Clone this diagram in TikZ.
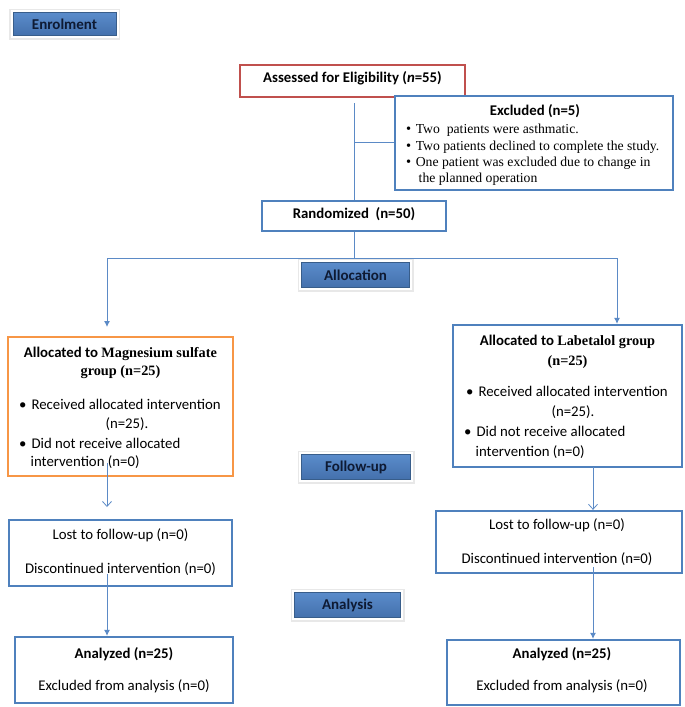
\documentclass[tikz,border=0pt]{standalone}
\usepackage{fontspec}
\setmainfont{Carlito}
\newfontfamily\tms{Liberation Serif}
\usetikzlibrary{arrows.meta,shadows}
\definecolor{obl}{HTML}{4F81BD}
\definecolor{ored}{HTML}{C0504D}
\definecolor{oorg}{HTML}{F79646}
\definecolor{labtop}{HTML}{5A8CCB}
\definecolor{labbot}{HTML}{4470AC}
\definecolor{labedge}{HTML}{385D8A}
\definecolor{labtxt}{HTML}{0E1A33}
\definecolor{ln}{HTML}{5B8AC6}
\tikzset{
  box/.style={draw=obl, line width=2.3pt, fill=white, inner sep=0pt},
  lab/.style={draw=labedge, line width=0.8pt, top color=labtop, bottom color=labbot,
    inner sep=0pt, text=labtxt, font=\fontsize{15}{17}\selectfont\bfseries,
    drop shadow={shadow xshift=0.5pt, shadow yshift=-1.8pt, opacity=0.22, fill=black!60},
    preaction={draw=black!9, line width=8pt},
    preaction={draw=white, line width=5pt}},
  tx/.style={inner sep=0pt, font=\fontsize{14.8}{17}\selectfont, anchor=mid},
  txl/.style={tx, anchor=mid west},
  bt/.style={inner sep=0pt, font=\fontsize{14.8}{17}\selectfont\bfseries, anchor=mid},
  tm/.style={inner sep=0pt, font=\tms\fontsize{13.7}{16}\selectfont, anchor=mid west},
  conn/.style={draw=ln, line width=0.9pt},
  farrow/.style={conn, -{Latex[length=6pt,width=6pt]}},
  oarrow/.style={conn, -{Straight Barb[length=5pt,width=9pt,line width=0.8pt]}}
}
\newcommand{\tbf}[1]{{\tms\fontsize{14.3}{17}\selectfont\bfseries #1}}
\newcommand{\tdot}{{\tms\fontsize{14.5}{16}\selectfont\textbullet}}
\begin{document}
\begin{tikzpicture}[x=1pt,y=-1pt]
\useasboundingbox (0,0) rectangle (685,707);

% stage labels
\node[lab, minimum width=103pt, minimum height=23pt] (enrol) at (64.5,24) {Enrolment};
\node[lab, minimum width=108pt, minimum height=25pt] (alloclab) at (355.5,275) {Allocation};
\node[lab, minimum width=109pt, minimum height=25pt] (followlab) at (356,467) {Follow-up};
\node[lab, minimum width=106pt, minimum height=25pt] (analab) at (347.5,605) {Analysis};

% boxes
\node[box, draw=ored, minimum width=225pt, minimum height=32pt] (assess) at (352.5,81) {};
\node[box, minimum width=278pt, minimum height=94pt] (excl) at (534,143) {};
\node[box, minimum width=184pt, minimum height=30pt] (rand) at (354,216) {};
\node[box, draw=oorg, minimum width=225pt, minimum height=139pt] (lalloc) at (120.5,406.5) {};
\node[box, minimum width=229pt, minimum height=142pt] (ralloc) at (567.5,396) {};
\node[box, minimum width=223pt, minimum height=66pt] (llost) at (120.5,553) {};
\node[box, minimum width=246pt, minimum height=62pt] (rlost) at (559,542) {};
\node[box, minimum width=218pt, minimum height=66pt] (lana) at (124,670) {};
\node[box, minimum width=233pt, minimum height=65pt] (rana) at (563.5,672.5) {};

% texts
\node[bt] (t-assess) at (352.5,80) {Assessed for Eligibility (\textit{n}=55)};
\node[bt] (t-excl) at (535,113) {Excluded (n=5)};
\node[tm] (t-e1) at (406,131) {\tdot\hspace{4.5pt}Two\ \ patients were asthmatic.};
\node[tm] (t-e2) at (406,148) {\tdot\hspace{4.5pt}Two patients declined to complete the study.};
\node[tm] (t-e3) at (406,164.5) {\tdot\hspace{4.5pt}One patient was excluded due to change in};
\node[tm] (t-e4) at (418.5,180) {the planned operation};
\node[bt] (t-rand) at (354,216) {Randomized\ \ (n=50)};

\node[bt] (t-la1) at (120.5,355) {Allocated to \tbf{Magnesium sulfate}};
\node[bt] (t-la2) at (120.5,373) {\tbf{group (n=25)}};
\node[txl] (t-la3) at (19,407) {\textbullet\hspace{5pt}Received allocated intervention};
\node[tx] (t-la4) at (127,426) {(n=25).};
\node[txl] (t-la5) at (19,446) {\textbullet\hspace{5pt}Did not receive allocated};
\node[txl] (t-la6) at (30.5,464) {intervention (n=0)};

\node[bt] (t-ra1) at (567.5,343) {Allocated to \tbf{Labetalol group}};
\node[bt] (t-ra2) at (567.5,363) {\tbf{(n=25)}};
\node[txl] (t-ra3) at (466,394) {\textbullet\hspace{5pt}Received allocated intervention};
\node[tx] (t-ra4) at (573,414) {(n=25).};
\node[txl] (t-ra5) at (464,434) {\textbullet\hspace{5pt}Did not receive allocated};
\node[txl] (t-ra6) at (475.5,454) {intervention (n=0)};

\node[tx] (t-ll1) at (120.5,537) {Lost to follow-up (n=0)};
\node[tx] (t-ll2) at (120.5,571) {Discontinued intervention (n=0)};
\node[tx] (t-rl1) at (557,527) {Lost to follow-up (n=0)};
\node[tx] (t-rl2) at (557,561) {Discontinued intervention (n=0)};

\node[bt] (t-lan1) at (124,656) {Analyzed (n=25)};
\node[tx] (t-lan2) at (124,688) {Excluded from analysis (n=0)};
\node[bt] (t-ran1) at (562,656) {Analyzed (n=25)};
\node[tx] (t-ran2) at (562,688) {Excluded from analysis (n=0)};

% connectors
\coordinate (c-top) at (354,103);
\coordinate (c-ex) at (354,142);
\coordinate (c-j) at (354,258);
\coordinate (c-l) at (107,258);
\coordinate (c-r) at (617,258);
\coordinate (c-la) at (107,327);
\coordinate (c-ls) at (107,463);
\coordinate (c-le) at (107,507);
\coordinate (c-rs) at (593,467);
\coordinate (c-ls2) at (107,574);
\coordinate (c-rs2) at (593,567);

\draw[conn] (c-top) -- (rand.north);
\draw[conn] (c-ex) -- (c-ex -| excl.west);
\draw[conn] (rand.south) -- (c-j);
\draw[conn] (c-l) -- (c-r);
\draw[farrow] (c-l) -- (c-la);
\draw[farrow] (c-r) -- (c-r |- ralloc.north);
\draw[oarrow] (c-ls) -- (c-le);
\draw[oarrow] (c-rs) -- (c-rs |- rlost.north);
\draw[farrow] (c-ls2) -- (c-ls2 |- lana.north);
\draw[farrow] (c-rs2) -- (c-rs2 |- rana.north);
\end{tikzpicture}
\end{document}
